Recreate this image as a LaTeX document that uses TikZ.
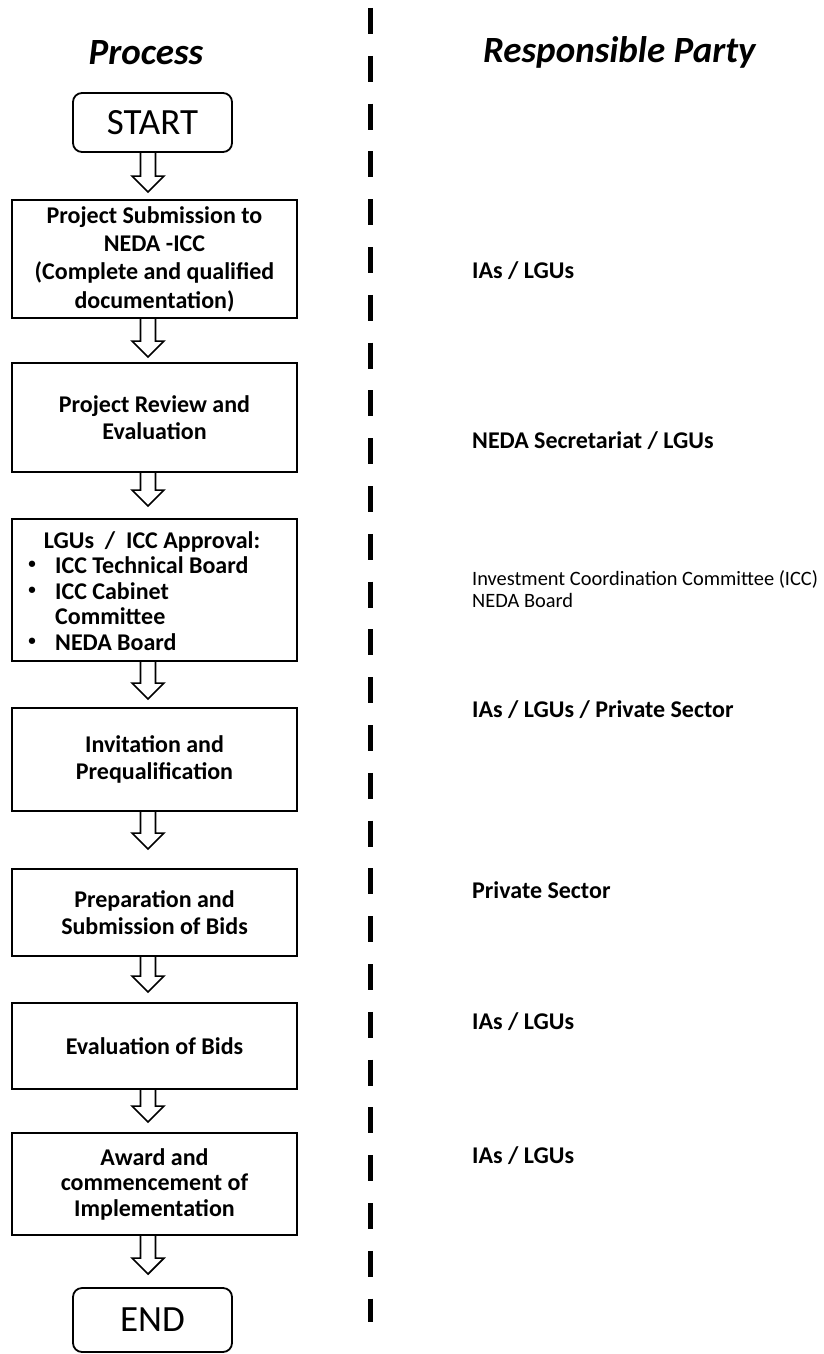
\documentclass[tikz,border=0pt]{standalone}
\usepackage{fontspec}
\setmainfont{Carlito}
\usetikzlibrary{calc}
\tikzset{
  box/.style={draw=black, line width=1.8pt, minimum width=285pt, inner sep=0pt, align=center,
    font=\bfseries\fontsize{24}{26.5}\selectfont},
  terminal/.style={draw=black, line width=1.8pt, rounded corners=9pt, minimum width=159pt, inner sep=0pt,
    font=\fontsize{37}{40}\selectfont},
  title/.style={font=\bfseries\itshape\fontsize{37}{40}\selectfont, inner sep=0pt},
  party/.style={font=\bfseries\fontsize{24}{26}\selectfont, inner sep=0pt, anchor=base west},
  partysmall/.style={font=\fontsize{20.4}{22}\selectfont, inner sep=0pt, anchor=base west},
  item/.style={font=\bfseries\fontsize{24}{26}\selectfont, inner sep=0pt},
  dot/.style={font=\bfseries\fontsize{15}{16}\selectfont, inner sep=0pt, anchor=center},
  blockarr/.style={draw=black, line width=1.6pt, line join=miter},
  divider/.style={draw=black, line width=4.5pt, dash pattern=on 26pt off 21.8pt}
}
\newcommand\flowarrow[3]{%
  \draw[blockarr] let \p1=(#1.south), \p2=(#2.north) in
    (148pt-7.5pt,\y1) -- (148pt-7.5pt,\y2+#3pt+16pt) -- (148pt-16pt,\y2+#3pt+16pt)
    -- (148pt,\y2+#3pt) -- (148pt+16pt,\y2+#3pt+16pt) -- (148pt+7.5pt,\y2+#3pt+16pt)
    -- (148pt+7.5pt,\y1);}
\begin{document}
\begin{tikzpicture}[x=1pt,y=-1pt]
\useasboundingbox (0,0) rectangle (823,1354);
% divider
\coordinate (dtop) at (370.5,8);
\coordinate (dbot) at (370.5,1322);
\draw[divider] (dtop) -- (dbot);
% titles
\node[title, anchor=base] (tproc) at (146,65) {Process};
\node[title, anchor=base west] (tresp) at (483,63) {Responsible Party};
% process column
\node[terminal, minimum height=59pt] (start) at (152.5,122.5) {START};
\node[box, minimum height=118pt, font=\bfseries\fontsize{24}{28.3}\selectfont] (b1) at (154.5,259) {Project Submission to\\NEDA -ICC\\(Complete and qualified\\documentation)};
\node[box, minimum height=109pt] (b2) at (154.5,417.5) {Project Review and\\Evaluation};
\node[box, minimum height=142pt] (b3) at (154.5,590) {};
\node[item, anchor=base] (b3h) at (152,548) {LGUs~~/~~ICC Approval:};
\node[item, anchor=base west] (b3i1) at (55,573) {ICC Technical Board};
\node[item, anchor=base west] (b3i2) at (55,599) {ICC Cabinet};
\node[item, anchor=base west] (b3i3) at (55,624) {Committee};
\node[item, anchor=base west] (b3i4) at (55,650) {NEDA Board};
\node[dot] (b3d1) at (32,565) {•};
\node[dot] (b3d2) at (32,591) {•};
\node[dot] (b3d4) at (32,642) {•};
\node[box, minimum height=103pt] (b4) at (154.5,759.5) {Invitation and\\Prequalification};
\node[box, minimum height=87pt] (b5) at (154.5,912.5) {Preparation and\\Submission of Bids};
\node[box, minimum height=86pt] (b6) at (154.5,1046) {Evaluation of Bids};
\node[box, minimum height=102pt, font=\bfseries\fontsize{24}{25.5}\selectfont] (b7) at (154.5,1184) {Award and\\commencement of\\Implementation};
\node[terminal, minimum height=64pt] (end) at (152.5,1320) {END};
% arrows
\flowarrow{start}{b1}{7}
\flowarrow{b1}{b2}{5}
\flowarrow{b2}{b3}{12}
\flowarrow{b3}{b4}{8}
\flowarrow{b4}{b5}{19}
\flowarrow{b5}{b6}{10}
\flowarrow{b6}{b7}{10}
\flowarrow{b7}{end}{13}
% responsible parties
\node[party] (p1) at (472,278) {IAs / LGUs};
\node[party] (p2) at (472,448) {NEDA Secretariat / LGUs};
\node[partysmall] (p3a) at (472,585) {Investment Coordination Committee (ICC)};
\node[partysmall] (p3b) at (472,607) {NEDA Board};
\node[party] (p4) at (472,717) {IAs / LGUs / Private Sector};
\node[party] (p5) at (472,898) {Private Sector};
\node[party] (p6) at (472,1029) {IAs / LGUs};
\node[party] (p7) at (472,1163) {IAs / LGUs};
\end{tikzpicture}
\end{document}
